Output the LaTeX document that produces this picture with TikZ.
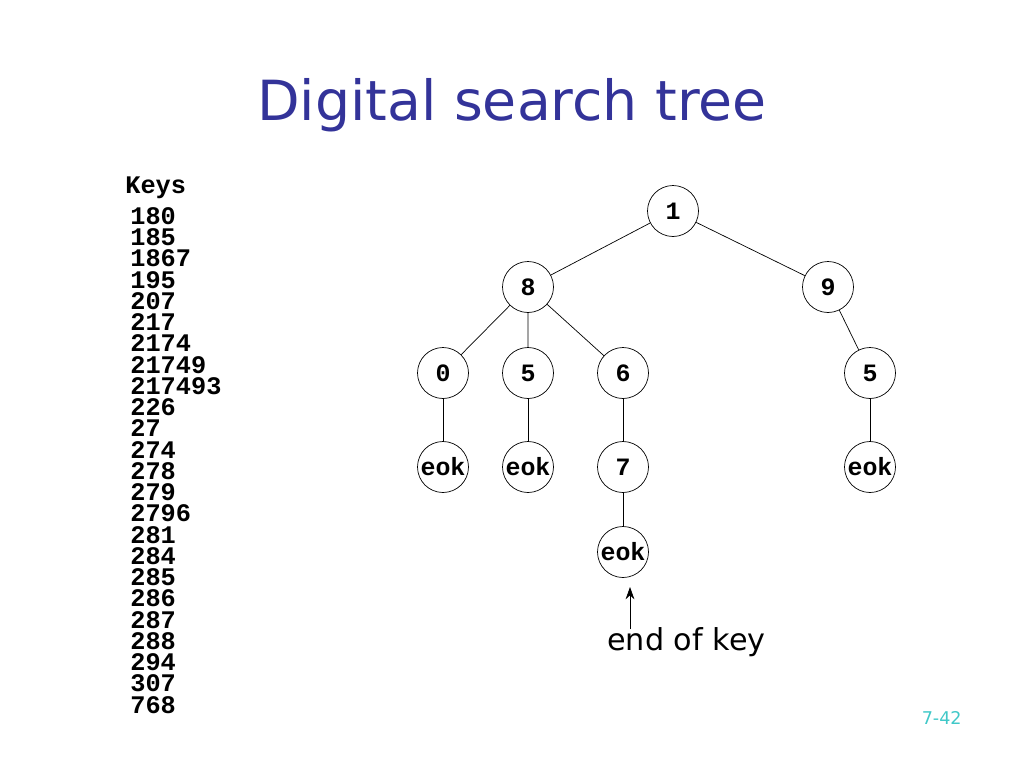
\documentclass[tikz,border=0pt]{standalone}
\usepackage{fontspec}
\setmainfont{DejaVu Sans}
\newfontfamily\keyfont{Liberation Mono}[BoldFont=* Bold]
\usetikzlibrary{arrows.meta}

\definecolor{titleblue}{RGB}{51,51,153}
\definecolor{pageteal}{RGB}{64,200,200}

\tikzset{
    digit/.style = {
        draw,
        circle,
        thin,
        minimum size=1.02cm,
        inner sep=0pt,
        font=\keyfont\bfseries\fontsize{14.2}{14.2}\selectfont
    },
    keytext/.style = {
        inner sep=0pt,
        align=left,
        font=\keyfont\bfseries\fontsize{14.4}{12.1}\selectfont
    },
    edge/.style = {
        thin,
        black
    },
    pointer/.style = {
        thin,
        -{Stealth[length=7pt,width=5pt]}
    }
}

\begin{document}
\begin{tikzpicture}[x=0.02cm,y=-0.02cm]
    \useasboundingbox (0,0) rectangle (1024,768);

    % Draw title
    \node[anchor=base, text=titleblue, font=\fontsize{31.5}{31.5}\selectfont] (title) at (512,120) {Digital search tree};

    % Draw key list
    \node[keytext, anchor=base west] (keys) at (125,193) {Keys};
    \node[keytext, anchor=north west] (keylist) at (130,207) {180\\185\\1867\\195\\207\\217\\2174\\21749\\217493\\226\\27\\274\\278\\279\\2796\\281\\284\\285\\286\\287\\288\\294\\307\\768};

    % Draw all nodes
    \node[digit] (n1)  at (673,211) {1};
    \node[digit] (n8)  at (528,287) {8};
    \node[digit] (n9)  at (828,287) {9};
    \node[digit] (n80) at (443,373) {0};
    \node[digit] (n85) at (528,373) {5};
    \node[digit] (n86) at (623,373) {6};
    \node[digit] (n95) at (870,373) {5};
    \node[digit] (e80) at (443,467) {eok};
    \node[digit] (e85) at (528,467) {eok};
    \node[digit] (n867) at (623,467) {7};
    \node[digit] (e95) at (870,467) {eok};
    \node[digit] (e867) at (623,552) {eok};

    % Draw edges
    \draw[edge] (n1) -- (n8) (n1) -- (n9);
    \draw[edge] (n8) -- (n80) (n8) -- (n85) (n8) -- (n86);
    \draw[edge] (n9) -- (n95);
    \draw[edge] (n80) -- (e80) (n85) -- (e85) (n86) -- (n867);
    \draw[edge] (n867) -- (e867) (n95) -- (e95);

    % Draw labels
    \node[anchor=base west, inner sep=0pt, font=\fontsize{17.2}{17.2}\selectfont] (endkey) at (607,650) {end of key};
    \coordinate (tail) at (630,629);
    \coordinate (tip) at (630,587);
    \draw[pointer] (tail) -- (tip);

    \node[anchor=base east, inner sep=0pt, text=pageteal, font=\fontsize{10}{10}\selectfont] (page) at (962,724) {7-42};
\end{tikzpicture}
\end{document}
